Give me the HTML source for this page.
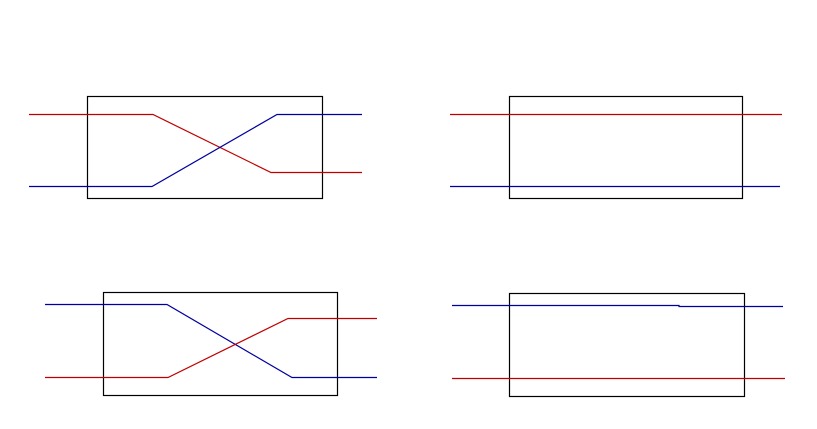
<!DOCTYPE html>
<html><head><style>html,body{margin:0;padding:0;background:#fff;}svg{display:block}</style></head>
<body>
<svg width="817" height="429" viewBox="0 0 817 429" xmlns="http://www.w3.org/2000/svg" fill="none" stroke-width="1.2">
<rect x="87.5" y="96.5" width="235" height="102" stroke="#000"/>
<polyline points="29,114.5 153,114.5 271,172.5 362,172.5" stroke="#c00000"/>
<polyline points="29,186.5 152,186.5 277,114.5 362,114.5" stroke="#0000a0"/>
<rect x="509.5" y="96.5" width="233" height="102" stroke="#000"/>
<line x1="450" y1="114.5" x2="782" y2="114.5" stroke="#c00000"/>
<line x1="450" y1="186.5" x2="780" y2="186.5" stroke="#0000a0"/>
<rect x="103.5" y="292.5" width="234" height="103" stroke="#000"/>
<polyline points="45,304.5 167,304.5 292,377.5 377,377.5" stroke="#0000a0"/>
<polyline points="45,377.5 168,377.5 288,318.5 377,318.5" stroke="#c00000"/>
<rect x="509.5" y="293.5" width="235" height="103" stroke="#000"/>
<polyline points="452,305.5 679,305.5 679,306.5 783,306.5" stroke="#0000a0"/>
<line x1="452" y1="378.5" x2="785" y2="378.5" stroke="#c00000"/>
</svg>
</body></html>
